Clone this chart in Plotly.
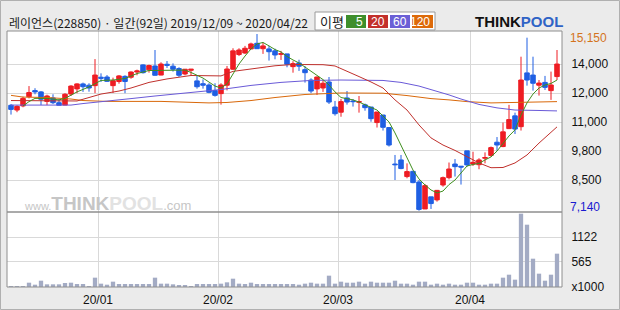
import plotly.graph_objects as go

# ---------------- data ----------------
dates = (
    ["2019-12-%02d" % d for d in [9, 10, 11, 12, 13, 16, 17, 18, 19, 20, 23, 24, 26, 27, 30]]
    + ["2020-01-%02d" % d for d in [2, 3, 6, 7, 8, 9, 10, 13, 14, 15, 16, 17, 20, 21, 22, 23, 28, 29, 30, 31]]
    + ["2020-02-%02d" % d for d in [3, 4, 5, 6, 7, 10, 11, 12, 13, 14, 17, 18, 19, 20, 21, 24, 25, 26, 27, 28]]
    + ["2020-03-%02d" % d for d in [2, 3, 4, 5, 6, 9, 10, 11, 12, 13, 16, 17, 18, 19, 20, 23, 24, 25, 26, 27, 30, 31]]
    + ["2020-04-%02d" % d for d in [1, 2, 3, 6, 7, 8, 9, 10, 13, 14, 16, 17, 20, 21, 22]]
)

open_ = [12020, 11800, 11990, 12420, 12700, 12640, 12200, 12360, 12140, 12030,
         12540, 12780, 13010, 12950, 12930, 13320, 13330, 12930, 13120, 13360,
         13320, 13560, 13890, 13660, 13840, 13420, 13920, 13830, 13720, 13470,
         13640, 13150, 13020, 12960, 12700, 12560, 12950, 13690, 14370, 14440,
         14630, 14890, 14640, 14630, 14540, 14380, 14400, 13810, 13980, 13670,
         13190, 12780, 12820, 13100, 11940, 11700, 12360, 12220, 12160, 12040,
         11940, 11220, 11570, 10990, 9300, 9490, 8720, 8960, 8470, 7220,
         7780, 7640, 8330, 8670, 9300, 9200, 9910, 9300, 9270, 9570,
         9700, 10310, 10110, 10940, 11530, 11030, 13520, 13420, 12950, 13080,
         12700, 13350]
high = [12080, 12020, 12420, 12910, 12810, 12680, 12510, 12530, 12310, 12580,
        12950, 13040, 13070, 13040, 14160, 13500, 13420, 13300, 13420, 13410,
        13590, 13670, 13920, 13900, 14580, 14010, 14070, 13960, 13780, 13690,
        13690, 13390, 13220, 13040, 13040, 13040, 13840, 14660, 14660, 14770,
        14920, 15320, 14920, 14770, 14640, 14540, 14400, 14060, 14130, 13830,
        13270, 13350, 13190, 13330, 12220, 12310, 12680, 12310, 12450, 12100,
        11940, 11710, 11570, 10990, 9720, 9720, 9330, 8990, 8560, 8380,
        7780, 8100, 8720, 9370, 9530, 9200, 9910, 9870, 9570, 9840,
        10110, 10550, 11220, 12040, 11680, 14270, 15150, 14270, 13190, 13380,
        13580, 14580]
low = [11590, 11700, 11930, 12340, 12530, 12030, 12030, 12080, 12020, 12020,
       12450, 12580, 12640, 12650, 12580, 13100, 13100, 12590, 13020, 12580,
       13250, 13410, 13490, 13530, 13390, 13410, 13750, 13580, 13330, 13410,
       13420, 12790, 12790, 12580, 12420, 12050, 12710, 13660, 14300, 14400,
       14610, 14630, 14400, 14090, 14150, 14120, 13780, 13530, 13610, 13070,
       12580, 12500, 12640, 12080, 11540, 11490, 12050, 11960, 11680, 11770,
       11260, 10990, 10850, 10110, 8560, 9060, 8640, 8410, 7140, 7220,
       7220, 7560, 8250, 8590, 8720, 8350, 9180, 9210, 9060, 9330,
       9640, 9920, 10080, 10920, 10690, 10850, 12930, 12700, 12470, 12730,
       12270, 13190]
close = [11830, 11970, 12340, 12610, 12640, 12300, 12450, 12140, 12020, 12530,
         12910, 13010, 12880, 12820, 13420, 13270, 13130, 13160, 13380, 13120,
         13560, 13610, 13530, 13860, 13410, 13930, 13870, 13690, 13410, 13690,
         13690, 12880, 12950, 12620, 12480, 12960, 13700, 14540, 14580, 14660,
         14860, 14640, 14770, 14500, 14350, 14410, 13920, 13950, 13830, 13530,
         12680, 13330, 13040, 12170, 11630, 12190, 12170, 12190, 12190, 11910,
         11400, 11710, 11000, 10180, 9270, 9090, 8950, 8440, 7200, 8300,
         7470, 8080, 8670, 9070, 9180, 9160, 9260, 9380, 9490, 9600,
         10060, 10180, 10790, 11360, 10920, 13190, 13190, 13040, 13050, 12850,
         12960, 13930]
volume_k = [22, 22, 22, 97, 52, 142, 60, 60, 60, 90,
            97, 67, 67, 22, 210, 75, 52, 120, 67, 67,
            67, 67, 67, 67, 210, 75, 75, 60, 45, 45,
            22, 67, 67, 67, 67, 75, 105, 187, 75, 67,
            97, 67, 67, 67, 67, 67, 67, 67, 52, 75,
            97, 75, 75, 255, 75, 120, 97, 97, 120, 75,
            120, 97, 97, 97, 142, 75, 75, 52, 120, 120,
            52, 75, 52, 75, 52, 52, 97, 97, 52, 52,
            75, 75, 210, 277, 165, 1650, 1402, 637, 300, 142,
            277, 750]

# moving averages (trading-day number -> value)
ma5_day = [2, 3, 4, 6, 8, 9, 11, 13, 15, 17, 19, 21, 23, 25, 27, 29, 30, 32, 34, 35,
           36, 37, 38, 39, 40, 41, 42, 43, 44, 45, 46, 47, 48, 49, 50, 51, 52, 53, 54, 55,
           56, 57, 58, 59, 60, 61, 62, 63, 64, 65, 66, 67, 68, 69, 70, 71, 72, 73, 74, 75,
           76, 77, 78, 79, 80, 81, 82, 83, 84, 85, 86, 87, 88, 89, 90, 91]
ma5 = [11990, 12190, 12340, 12340, 12270, 12340, 12640, 12870, 13170, 13190, 13260, 13490, 13630, 13630, 13630, 13650, 13540, 13280, 12910, 12820,
       13010, 13470, 13930, 14300, 14630, 14860, 14930, 14770, 14600, 14490, 14280, 14120, 13980, 13790, 13610, 13420, 13210, 12960, 12640, 12380,
       12330, 12270, 12170, 12030, 11920, 11800, 11520, 11250, 10740, 10140, 9580, 9020, 8610, 8330, 8100, 7960, 8050, 8350, 8560, 8890,
       9210, 9280, 9330, 9490, 9630, 9900, 10270, 10600, 10880, 11570, 12130, 12540, 12820, 12960, 13030, 13190]
ma20_day = [0, 6, 11, 13, 15, 18, 20, 23, 26, 30, 32, 35, 37, 40, 44, 47, 52, 54, 56, 58,
            60, 62, 64, 66, 68, 70, 72, 74, 76, 78, 80, 82, 84, 86, 88, 90, 91]
ma20 = [12240, 12220, 12220, 12380, 12540, 12680, 12820, 13080, 13240, 13400, 13400, 13380, 13590, 13700, 13850, 13910, 13900, 13840, 13610, 13350,
        13100, 12820, 12270, 11800, 11110, 10510, 10180, 9930, 9640, 9350, 9130, 9140, 9350, 9720, 10270, 10780, 11020]
ma60_day = [0, 10, 12, 16, 20, 24, 29, 35, 40, 45, 50, 55, 62, 65, 68, 70, 73, 75, 78, 81, 84, 88, 91]
ma60 = [12030, 12030, 12100, 12200, 12330, 12450, 12590, 12750, 12940, 13080, 13170, 13190, 13170, 13080, 12910, 12750, 12500, 12310, 12060, 11900,
        11800, 11780, 11760]
ma120_day = [0, 2, 6, 10, 12, 16, 25, 29, 33, 36, 40, 44, 49, 55, 62, 66, 70, 73, 76, 80, 85, 91]
ma120 = [12480, 12400, 12380, 12310, 12240, 12200, 12200, 12160, 12130, 12150, 12240, 12380, 12520, 12590, 12580, 12470, 12330, 12270, 12190, 12130,
         12150, 12190]

price_tick_vals = [13932, 12589, 11246, 9904, 8561]
price_tick_text = ["14,000", "12,000", "11,000", "9,800", "8,500"]
price_max_label, price_min_label = "15,150", "7,140"
price_max, price_min = 15150, 7140
vol_tick_vals = [0, 565, 1122]
vol_tick_text = ["x1000", "565", "1122"]

title_text = "레이언스(228850) · 일간(92일) 2019/12/09 ~ 2020/04/22"
ma_labels = ["5", "20", "60", "120"]

# ---------------- style ----------------
RED, BLUE = "#ee1c23", "#1f5fe3"
MA_COLORS = ["#3f8f1f", "#c0302c", "#6a5ad8", "#d9680a"]
BOX_COLORS = ["#3e8f2c", "#c3302b", "#6b5fd6", "#dd6a0a"]
VOL_COLOR = "#a3abc4"
GRID = "#d9d9d9"
BORDER = "#8e8e8e"
FONT = "Liberation Sans"
KFONT = "Noto Sans CJK KR"

W, H = 620, 310
L, R, T, B = 7, 58, 31, 23
PW, PH = W - L - R, H - T - B


def px(x):
    return (x - L) / PW


def py(y):
    return (H - B - y) / PH


split = py(212)

idx = list(range(len(dates)))
month_first = [i for i in range(1, len(dates)) if dates[i][5:7] != dates[i - 1][5:7]]
x_tickvals = [i - 0.5 for i in month_first]
x_ticktext = [dates[i][2:4] + "/" + dates[i][5:7] for i in month_first]

fig = go.Figure()

for day, vals, col in [(ma120_day, ma120, MA_COLORS[3]), (ma60_day, ma60, MA_COLORS[2]),
                       (ma20_day, ma20, MA_COLORS[1]), (ma5_day, ma5, MA_COLORS[0])]:
    fig.add_trace(go.Scatter(x=day, y=vals, mode="lines", line=dict(color=col, width=1),
                             xaxis="x", yaxis="y", hoverinfo="skip", showlegend=False))

fig.add_trace(go.Candlestick(
    x=idx, open=open_, high=high, low=low, close=close,
    increasing=dict(line=dict(color=RED, width=1), fillcolor=RED),
    decreasing=dict(line=dict(color=BLUE, width=1), fillcolor=BLUE),
    whiskerwidth=0, xaxis="x", yaxis="y", showlegend=False))

fig.add_trace(go.Bar(x=idx, y=volume_k, width=0.72, marker=dict(color=VOL_COLOR, line_width=0),
                     xaxis="x", yaxis="y2", showlegend=False))

axis_font = dict(family=FONT, size=12, color="#111111")

fig.update_layout(
    width=W, height=H,
    margin=dict(l=L, r=R, t=T, b=B, pad=0),
    paper_bgcolor="#ebebeb", plot_bgcolor="#ffffff",
    showlegend=False,
    boxgap=0.25, boxgroupgap=0.0,
    xaxis=dict(
        range=[-(11 - L) / 6, (L + PW - 11) / 6], automargin=False,
        anchor="y2", tickmode="array", tickvals=x_tickvals, ticktext=x_ticktext,
        showgrid=True, gridcolor=GRID, gridwidth=1, zeroline=False, showline=False,
        ticks="outside", ticklen=2, tickcolor="rgba(0,0,0,0)", tickfont=axis_font,
        rangeslider=dict(visible=False), fixedrange=True,
    ),
    yaxis=dict(
        domain=[split, 1], range=[16895 - 46.3 * 212, 16895 - 46.3 * 31], side="right",
        automargin=False,
        tickmode="array", tickvals=price_tick_vals, ticktext=price_tick_text,
        showgrid=True, gridcolor=GRID, zeroline=False, showline=False,
        ticks="outside", ticklen=6, tickcolor="rgba(0,0,0,0)", tickfont=axis_font,
    ),
    yaxis2=dict(
        domain=[0, split], range=[0, 75 * 22.5], side="right", anchor="x",
        automargin=False,
        tickmode="array", tickvals=vol_tick_vals, ticktext=vol_tick_text,
        showgrid=True, gridcolor=GRID, zeroline=False, showline=False,
        ticks="outside", ticklen=6, tickcolor="rgba(0,0,0,0)", tickfont=axis_font,
    ),
)

shapes = [
    dict(type="rect", xref="paper", yref="paper", x0=0, x1=1, y0=split, y1=1,
         line=dict(color=BORDER, width=1), fillcolor="rgba(0,0,0,0)", layer="above"),
    dict(type="rect", xref="paper", yref="paper", x0=0, x1=1, y0=0, y1=split,
         line=dict(color=BORDER, width=1), fillcolor="rgba(0,0,0,0)", layer="above"),
    dict(type="rect", xref="paper", yref="paper", x0=px(0.5), x1=px(619.5), y0=py(309.5), y1=py(0.5),
         line=dict(color="#b0b0b0", width=1), fillcolor="rgba(0,0,0,0)", layer="above"),
    # legend frame
    dict(type="rect", xref="paper", yref="paper", x0=px(315), x1=px(435), y0=py(30), y1=py(12),
         line=dict(color="#9a9a9a", width=1), fillcolor="#ffffff", layer="above"),
]
box_x = [(346, 366), (368, 388), (390, 410), (412, 433)]
annotations = []
for (x0, x1), col, lab in zip(box_x, BOX_COLORS, ma_labels):
    shapes.append(dict(type="rect", xref="paper", yref="paper", x0=px(x0), x1=px(x1), y0=py(28), y1=py(15),
                       line=dict(width=0), fillcolor=col, layer="above"))
    annotations.append(dict(xref="paper", yref="paper", x=px(x1 - 1), y=py(21.5), xanchor="right", yanchor="middle",
                            text=lab, showarrow=False, font=dict(family=FONT, size=12, color="#ffffff")))

annotations += [
    dict(xref="paper", yref="paper", x=px(7), y=py(22.5), xanchor="left", yanchor="middle",
         text=title_text, showarrow=False, font=dict(family=KFONT, size=12, color="#1a1a1a")),
    dict(xref="paper", yref="paper", x=px(318), y=py(21.5), xanchor="left", yanchor="middle",
         text="이평", showarrow=False, font=dict(family=KFONT, size=13, color="#1a1a1a")),
    dict(xref="paper", yref="paper", x=px(565), y=py(21.5), xanchor="right", yanchor="middle",
         text="<b>THINK</b><b><span style='color:#2f63c6'>POOL</span></b>", showarrow=False,
         font=dict(family=FONT, size=15, color="#111111")),
    dict(xref="paper", yref="paper", x=px(22), y=py(203), xanchor="left", yanchor="middle",
         text="<span style='font-size:11px'>www.</span><b>THINK</b><b><span style='color:#e2e2e2'>POOL</span></b><span style='font-size:13px'>.com</span>",
         showarrow=False, font=dict(family=FONT, size=19, color="#c6c6c6")),
    dict(xref="paper", yref="y", x=1, y=price_max, xanchor="left", yanchor="middle", xshift=6,
         text=price_max_label, showarrow=False, font=dict(family=FONT, size=12, color="#d4731c")),
    dict(xref="paper", yref="y", x=1, y=price_min, xanchor="left", yanchor="middle", xshift=6, yshift=4,
         text=price_min_label, showarrow=False, font=dict(family=FONT, size=12, color="#1a1ad0")),
]

fig.update_layout(shapes=shapes, annotations=annotations)

fig.write_html("out.html")
